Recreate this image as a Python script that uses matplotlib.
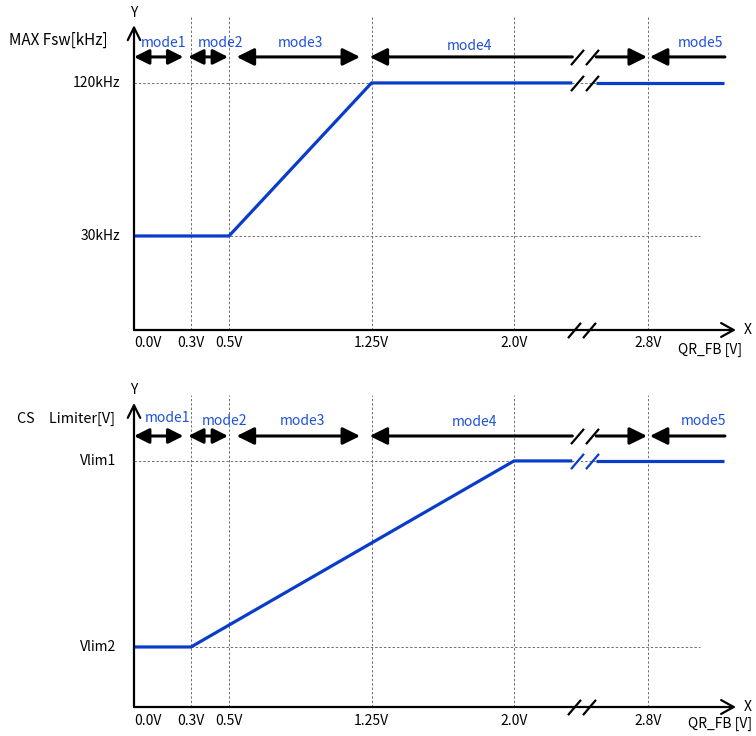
import numpy as np
import matplotlib

matplotlib.use("Agg")
import matplotlib.pyplot as plt

plt.rcParams["font.family"] = ["Noto Sans CJK JP", "DejaVu Sans"]

# ---- data -------------------------------------------------------------
X_TICK_V = [0.0, 0.3, 0.5, 1.25, 2.0, 2.8]
X_TICK_LABELS = ["0.0V", "0.3V", "0.5V", "1.25V", "2.0V", "2.8V"]
MODE_NAMES = ["mode1", "mode2", "mode3", "mode4", "mode5"]

# top: maximum switching frequency
FSW_V = [0.0, 0.5, 1.25, 3.2]
FSW_KHZ = [30, 30, 120, 120]
FSW_TICKS = [30, 120]
FSW_TICK_LABELS = ["30kHz", "120kHz"]

# bottom: current-sense limiter (Vlim2 = 0, Vlim1 = 1, arbitrary units)
CS_V = [0.0, 0.3, 2.0, 3.2]
CS_LEVEL = [0.0, 0.0, 1.0, 1.0]
CS_TICKS = [0.0, 1.0]
CS_TICK_LABELS = ["Vlim2", "Vlim1"]

# ---- style ------------------------------------------------------------
BLUE = "#0a3ccc"
TEXT_BLUE = "#1f50d8"
GRID = "#707070"
BREAK_X = 2.37          # display x where the axis is broken
BREAK_SHIFT = 0.095     # volts hidden by the break
CUT = 0.063             # half gap of the broken lines
AXIS_END = 3.168
GRID_END = 2.98


def disp(v):
    v = np.asarray(v, dtype=float)
    return np.where(v > BREAK_X, v - BREAK_SHIFT, v)


def slash(ax, x, y, color):
    ax.plot([x - 0.04, x + 0.04], [y, y], ls="none", marker=[(-0.85, -1), (0.85, 1)],
            ms=11, mew=1.6, mec=color, clip_on=False, zorder=6)


def broken_line(ax, xs, ys, color, lw, slash_color):
    xs = disp(xs)
    ys = np.asarray(ys, dtype=float)
    left_end, right_start = BREAK_X - CUT, BREAK_X + CUT
    y_l = np.interp(left_end, xs, ys)
    y_r = np.interp(right_start, xs, ys)
    lx = np.r_[xs[xs < left_end], left_end]
    ly = np.r_[ys[xs < left_end], y_l]
    rx = np.r_[right_start, xs[xs > right_start]]
    ry = np.r_[y_r, ys[xs > right_start]]
    ax.plot(lx, ly, color=color, lw=lw, solid_capstyle="butt", zorder=4, clip_on=False)
    ax.plot(rx, ry, color=color, lw=lw, solid_capstyle="butt", zorder=4, clip_on=False)
    slash(ax, BREAK_X, 0.5 * (y_l + y_r), slash_color)


def dbl_arrow(ax, x0, x1, y, big, left=True, right=True):
    hl, hw = (1.05, 0.52) if big else (0.9, 0.45)
    style = {(True, True): "<|-|>", (True, False): "<|-", (False, True): "-|>"}[(left, right)]
    ax.annotate("", xy=(x1, y), xytext=(x0, y),
                arrowprops=dict(arrowstyle=f"{style},head_length={hl},head_width={hw}",
                                color="black", lw=2.2, shrinkA=0, shrinkB=0,
                                mutation_scale=10),
                annotation_clip=False, zorder=5)


def panel(ax, xs, ys, yticks, ylabels, ylim, ylabel, cfg):
    ax.set_xlim(0, 3.2)
    ax.set_ylim(*ylim)
    ax.axis("off")
    y0 = ylim[0]
    bounds = disp(X_TICK_V[1:])

    # dashed guides
    for b in bounds:
        ax.plot([b, b], [y0, cfg["grid_top"]], color=GRID, lw=0.7, ls=(0, (2.5, 2)),
                zorder=1, clip_on=False)
    for yt in yticks:
        ax.plot([0, GRID_END], [yt, yt], color=GRID, lw=0.7, ls=(0, (2.5, 2)), zorder=1)

    # axes with open arrowheads
    ax.annotate("", xy=(AXIS_END, y0), xytext=(0, y0),
                arrowprops=dict(arrowstyle="->,head_length=0.9,head_width=0.5", lw=1.6,
                                color="black", shrinkA=0, shrinkB=0, mutation_scale=10),
                annotation_clip=False, zorder=5)
    ax.annotate("", xy=(0, cfg["y_tip"]), xytext=(0, y0),
                arrowprops=dict(arrowstyle="->,head_length=0.9,head_width=0.45", lw=1.6,
                                color="black", shrinkA=0, shrinkB=0, mutation_scale=10),
                annotation_clip=False, zorder=5)
    slash(ax, BREAK_X - 0.013, y0, "black")
    ax.text(0, cfg["y_lab"], "Y", ha="center", va="center", fontsize=10)
    ax.text(AXIS_END + 0.06, y0, "X", ha="center", va="center", fontsize=10, clip_on=False)

    # signal
    broken_line(ax, xs, ys, BLUE, 2.3, cfg["slash_color"])

    # mode arrows: edges = 0, 0.3, 0.5, 1.25, 2.0, 2.8 (display)
    ya = cfg["arrow_y"]
    edges = np.r_[0.0, bounds]
    spans = [(0.0, edges[1] - 0.04), (edges[1] - 0.015, edges[2] - 0.005),
             (edges[2] + 0.04, edges[3] - 0.06), (edges[3] - 0.01, BREAK_X - CUT)]
    for i, (a, b) in enumerate(spans):
        dbl_arrow(ax, a, b, ya, big=i >= 2, right=i < 3)
    dbl_arrow(ax, BREAK_X + CUT, edges[5] - 0.005, ya, big=True, left=False)
    dbl_arrow(ax, edges[5] + 0.01, 3.11, ya, big=True, right=False)
    slash(ax, BREAK_X + 0.003, ya, "black")
    for name, (mx, my) in zip(MODE_NAMES, cfg["mode_lab"]):
        ax.text(mx, my, name, color=TEXT_BLUE, ha="center", va="center", fontsize=10)

    # labels
    for yt, lab in zip(yticks, ylabels):
        ax.text(cfg["ytick_x"], yt, lab, ha="right", va="center", fontsize=10)
    ax.text(cfg["ylabel_xy"][0], cfg["ylabel_xy"][1], ylabel, ha="left", va="center",
            fontsize=cfg["ylabel_fs"])
    for v, lab in zip(X_TICK_V, X_TICK_LABELS):
        ha = "left" if v == 0 else "center"
        ax.text(disp(v), cfg["xtick_y"], lab, ha=ha, va="center", fontsize=10)
    ax.text(cfg["qr_xy"][0], cfg["qr_xy"][1], "QR_FB [V]", ha="left", va="center",
            fontsize=10, clip_on=False)


fig = plt.figure(figsize=(7.56, 7.36), dpi=100)
W, H = 756, 736
ax_top = fig.add_axes([134 / W, (H - 330) / H, 608 / W, 320 / H])
ax_bot = fig.add_axes([134 / W, (H - 707) / H, 608 / W, 319 / H])

panel(ax_top, FSW_V, FSW_KHZ, FSW_TICKS, FSW_TICK_LABELS, (-25.3, 162.9), "MAX Fsw[kHz]",
      dict(grid_top=160.0, y_tip=154.0, y_lab=161.0, arrow_y=135.3, slash_color="black",
           mode_lab=[(0.153, 143.5), (0.453, 143.5), (0.874, 143.5), (1.768, 141.8),
                     (2.984, 143.5)], ylabel_fs=11,
           ytick_x=-0.074, ylabel_xy=(-0.658, 145.3), xtick_y=-32.9, qr_xy=(2.863, -37.1)))

panel(ax_bot, CS_V, CS_LEVEL, CS_TICKS, CS_TICK_LABELS, (-0.3226, 1.392), "CS\u3000Limiter[V]",
      dict(grid_top=1.355, y_tip=1.312, y_lab=1.382, arrow_y=1.134, slash_color=BLUE,
           mode_lab=[(0.174, 1.231), (0.474, 1.215), (0.889, 1.215), (1.79, 1.21),
                     (2.995, 1.215)], ylabel_fs=10.3,
           ytick_x=-0.095, ylabel_xy=(-0.616, 1.226), xtick_y=-0.398, qr_xy=(2.916, -0.414)))

fig.savefig("out.png", dpi=100)
